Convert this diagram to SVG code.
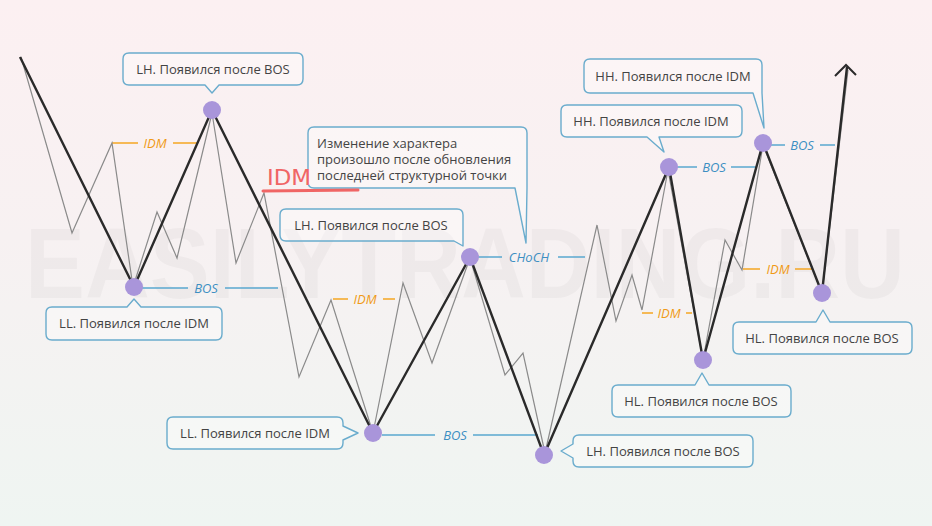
<svg xmlns="http://www.w3.org/2000/svg" width="932" height="526" viewBox="0 0 932 526">
<defs>
<linearGradient id="bg" x1="0" y1="0" x2="0" y2="1">
<stop offset="0" stop-color="#fcf0f2"/>
<stop offset="0.45" stop-color="#f7f1f2"/>
<stop offset="1" stop-color="#eff5f2"/>
</linearGradient>
<style>
.call{fill:#ffffff;fill-opacity:0.35;stroke:#6aaccd;stroke-width:1.4;stroke-linejoin:round}
.ct{font-family:"Open Sans","DejaVu Sans",sans-serif;font-size:13px;fill:#444444;text-anchor:middle}
.blue{stroke:#5aa8d0;stroke-width:1.5;fill:none}
.orange{stroke:#f5a623;stroke-width:1.5;fill:none}
.bl{font-family:"Open Sans","DejaVu Sans",sans-serif;font-size:13px;font-style:italic;fill:#3d8fc2;text-anchor:middle}
.ol{font-family:"Open Sans","DejaVu Sans",sans-serif;font-size:13px;font-style:italic;fill:#f09a16;text-anchor:middle}
.dot{fill:#a995da}
</style>
</defs>
<rect x="0" y="0" width="932" height="526" fill="url(#bg)"/>
<text x="25" y="298" font-family="Liberation Sans, sans-serif" font-weight="bold" font-size="100" textLength="880" lengthAdjust="spacingAndGlyphs" fill="#000" fill-opacity="0.03">EASILYTRADING.RU</text>

<g id="levels">
<path class="orange" d="M112,143H138M173,143H198"/><text class="ol" x="155" y="147.5">IDM</text>
<path class="blue" d="M140,288H188M225,288H278"/><text class="bl" x="206" y="292.5">BOS</text>
<path class="orange" d="M333,299H348M383,299H395"/><text class="ol" x="365" y="303.5">IDM</text>
<path class="blue" d="M475,257H502M558,257H585"/><text class="bl" x="529" y="261.5">CHoCH</text>
<path class="blue" d="M382,435H435M473,435H538"/><text class="bl" x="455" y="439.5">BOS</text>
<path class="orange" d="M642,313H653M686,313H692"/><text class="ol" x="669" y="317.5">IDM</text>
<path class="blue" d="M677,167H697M731,167H757"/><text class="bl" x="714" y="171.5">BOS</text>
<path class="blue" d="M770,145H785M820,145H835"/><text class="bl" x="802" y="149.5">BOS</text>
<path class="orange" d="M743,269H760M795,269H812"/><text class="ol" x="778" y="273.5">IDM</text>
</g>

<g id="connectors">
<polyline fill="none" stroke="#8a8a8a" stroke-width="1.2" stroke-linejoin="miter" points="21,57 72,233 112,143 133,287 157,212 177,258 212,113 236,263 264,193 299,377 331,300 373,433 403,283 432,363 470,258 505,375 523,353 545,453 597,225 616,321 632,275 642,310 668,170 703,360 725,240 742,270 763,145 822,293 848,70"/>
<polyline fill="none" stroke="#2a2a2a" stroke-width="2.4" stroke-linejoin="miter" points="20,57 134,287 212,110 373,433 470,257 544,455 669,167 703,360 763,143 822,293 847,67"/>
<polyline fill="none" stroke="#2a2a2a" stroke-width="2" stroke-linejoin="miter" points="835,76 846,65 856,75"/>
</g>

<g id="points">
<circle class="dot" cx="134" cy="287" r="9"/>
<circle class="dot" cx="212" cy="110" r="9"/>
<circle class="dot" cx="373" cy="433" r="9"/>
<circle class="dot" cx="470" cy="257" r="9"/>
<circle class="dot" cx="544" cy="455" r="9"/>
<circle class="dot" cx="669" cy="167" r="9"/>
<circle class="dot" cx="703" cy="360" r="9"/>
<circle class="dot" cx="763" cy="143" r="9"/>
<circle class="dot" cx="822" cy="293" r="9"/>
</g>

<g id="n1">
<path class="call" d="M129,53H297Q303,53 303,59V79Q303,85 297,85H219L212,93L205,85H129Q123,85 123,79V59Q123,53 129,53Z"/>
<text class="ct" x="213" y="74">LH. Появился после BOS</text>
</g>
<g id="n2">
<path class="call" d="M52,307H127L134,299L141,307H216Q222,307 222,313V334Q222,340 216,340H52Q46,340 46,334V313Q46,307 52,307Z"/>
<text class="ct" x="134" y="328">LL. Появился после IDM</text>
</g>
<g id="n3">
<path class="call" d="M314,127H521Q527,127 527,133V188L526,243L515,188H314Q308,188 308,182V133Q308,127 314,127Z"/>
<text class="ct" x="317" y="148" style="text-anchor:start">Изменение характера</text>
<text class="ct" x="317" y="164" style="text-anchor:start">произошло после обновления</text>
<text class="ct" x="317" y="180" style="text-anchor:start">последней структурной точки</text>
</g>
<g id="n4">
<path class="call" d="M286,209H457Q463,209 463,215V246L454,241H286Q280,241 280,235V215Q280,209 286,209Z"/>
<text class="ct" x="371" y="230">LH. Появился после BOS</text>
</g>
<g id="n5">
<path class="call" d="M173,417H337Q343,417 343,423V426L358,433L343,440V443Q343,449 337,449H173Q167,449 167,443V423Q167,417 173,417Z"/>
<text class="ct" x="255" y="438">LL. Появился после IDM</text>
</g>
<g id="n6">
<path class="call" d="M579,435H747Q753,435 753,441V461Q753,467 747,467H579Q573,467 573,461V458L561,451L573,444V441Q573,435 579,435Z"/>
<text class="ct" x="663" y="456">LH. Появился после BOS</text>
</g>
<g id="n7">
<path class="call" d="M567,105H736Q742,105 742,111V131Q742,137 736,137H659L664,152L647,137H567Q561,137 561,131V111Q561,105 567,105Z"/>
<text class="ct" x="651" y="126">HH. Появился после IDM</text>
</g>
<g id="n8">
<path class="call" d="M590,59H756Q762,59 762,65V93L764,128L753,93H590Q584,93 584,87V65Q584,59 590,59Z"/>
<text class="ct" x="673" y="81">HH. Появился после IDM</text>
</g>
<g id="n9">
<path class="call" d="M618,385H695L702,373L709,385H785Q791,385 791,391V411Q791,417 785,417H618Q612,417 612,411V391Q612,385 618,385Z"/>
<text class="ct" x="701" y="406">HL. Появился после BOS</text>
</g>
<g id="n10">
<path class="call" d="M739,322H816L823,310L830,322H906Q912,322 912,328V348Q912,354 906,354H739Q733,354 733,348V328Q733,322 739,322Z"/>
<text class="ct" x="822" y="343">HL. Появился после BOS</text>
</g>

<g id="red-idm">
<text x="267" y="185" font-family="DejaVu Sans Condensed, DejaVu Sans, sans-serif" font-size="22" fill="#f06565" textLength="44" lengthAdjust="spacingAndGlyphs">IDM</text>
<line x1="263" y1="191" x2="358" y2="190" stroke="#f06565" stroke-width="3" stroke-linecap="round"/>
</g>
</svg>
